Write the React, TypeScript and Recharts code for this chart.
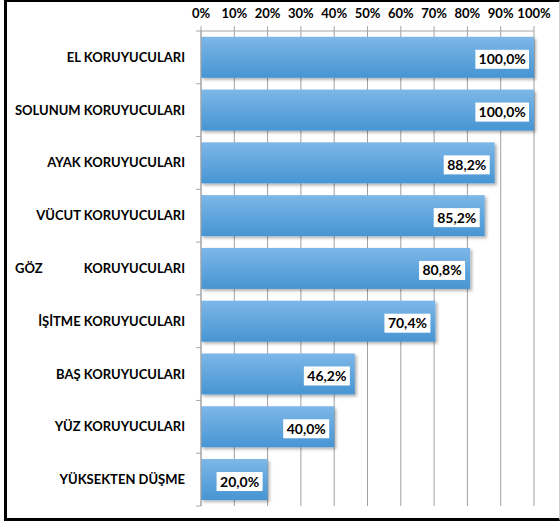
import React from "react";
import { BarChart, Bar, XAxis, YAxis, CartesianGrid, LabelList } from "recharts";

const categories = [
  "EL KORUYUCULARI",
  "SOLUNUM KORUYUCULARI",
  "AYAK KORUYUCULARI",
  "VÜCUT KORUYUCULARI",
  "GÖZ              KORUYUCULARI",
  "İŞİTME KORUYUCULARI",
  "BAŞ KORUYUCULARI",
  "YÜZ KORUYUCULARI",
  "YÜKSEKTEN DÜŞME",
];
const values = [100, 100, 88.2, 85.2, 80.8, 70.4, 46.2, 40.0, 20.0];
const xTicks = [0, 10, 20, 30, 40, 50, 60, 70, 80, 90, 100];

const data = categories.map((name, i) => ({ name, value: values[i] }));

const FONT = "Lato, 'Open Sans', sans-serif";
const BAND = (506 - 31) / categories.length;

const fmt = (v: number) => v.toFixed(1).replace(".", ",") + "%";

const CatTick = (props: any) => {
  const { x, y, payload, index } = props;
  const label: string = payload.value;
  const parts = label.split(/\s{2,}/);
  const axisX = x + 16;
  return (
    <g>
      <line x1={axisX - 5} x2={axisX} y1={y - BAND / 2} y2={y - BAND / 2} stroke="#a6a6a6" />
      {index === categories.length - 1 && (
        <line x1={axisX - 5} x2={axisX} y1={y + BAND / 2} y2={y + BAND / 2} stroke="#a6a6a6" />
      )}
      {parts.length > 1 ? (
        <>
          <text x={x - 170} y={y} dy={4.5} textAnchor="start" fontFamily={FONT} fontWeight={700} fontSize={13} fill="#000">
            {parts[0]}
          </text>
          <text x={x} y={y} dy={4.5} textAnchor="end" fontFamily={FONT} fontWeight={700} fontSize={13} fill="#000">
            {parts[1]}
          </text>
        </>
      ) : (
        <text x={x} y={y} dy={4.5} textAnchor="end" fontFamily={FONT} fontWeight={700} fontSize={13} fill="#000">
          {label}
        </text>
      )}
    </g>
  );
};

const ValueLabel = (props: any) => {
  const { x, y, width, height, value } = props;
  const text = fmt(Number(value));
  const boxW = text.length * 7.6 + 8;
  const boxH = 19;
  const right = x + width - 5;
  const cy = y + height / 2 + 2;
  return (
    <g>
      <rect x={right - boxW} y={cy - boxH / 2} width={boxW} height={boxH} fill="#fff" />
      <text
        x={right - boxW / 2}
        y={cy}
        dy={5}
        textAnchor="middle"
        fontFamily={FONT}
        fontWeight={700}
        fontSize={14}
        fill="#000"
      >
        {text}
      </text>
    </g>
  );
};

const BarShape = (props: any) => {
  const { x, y, width, height } = props;
  return <rect x={x} y={y} width={width} height={height} fill="url(#barGrad)" filter="url(#barShadow)" />;
};

export default function App() {
  return (
    <div style={{ position: "absolute", left: 0, top: 0, width: 560, height: 521, background: "#fff" }}>
      <div
        style={{
          position: "absolute",
          left: 4,
          top: 0,
          width: 556,
          height: 521,
          boxSizing: "border-box",
          borderLeft: "3px solid #000",
          borderTop: "2px solid #000",
          borderBottom: "3px solid #000",
          borderRight: "1px solid #d0d0d0",
        }}
      />
      <div style={{ position: "absolute", left: 0, top: 0 }}>
        <BarChart
          width={560}
          height={521}
          data={data}
          layout="vertical"
          margin={{ top: 0, right: 26, bottom: 15, left: 0 }}
          barCategoryGap="11%"
        >
          <defs>
            <linearGradient id="barGrad" x1="0" y1="0" x2="0" y2="1">
              <stop offset="0%" stopColor="#7db7e8" />
              <stop offset="100%" stopColor="#4795d3" />
            </linearGradient>
            <filter id="barShadow" x="-5%" y="-20%" width="115%" height="150%">
              <feDropShadow dx="2" dy="2" stdDeviation="1.5" floodColor="#000" floodOpacity="0.3" />
            </filter>
          </defs>
          <CartesianGrid horizontal={false} stroke="#a0a0a0" />
          <XAxis
            type="number"
            orientation="top"
            domain={[0, 100]}
            ticks={xTicks}
            tickFormatter={(v: number) => `${v}%`}
            height={31}
            tickSize={5}
            tickMargin={8}
            interval={0}
            axisLine={{ stroke: "#a6a6a6" }}
            tickLine={{ stroke: "#a6a6a6" }}
            tick={{ fontFamily: FONT, fontWeight: 700, fontSize: 13, fill: "#000" }}
          />
          <YAxis
            type="category"
            dataKey="name"
            width={201}
            tickLine={false}
            tickSize={6}
            tickMargin={10}
            interval={0}
            axisLine={{ stroke: "#a6a6a6" }}
            tick={<CatTick />}
          />
          <Bar dataKey="value" isAnimationActive={false} shape={<BarShape />}>
            <LabelList dataKey="value" content={<ValueLabel />} />
          </Bar>
        </BarChart>
      </div>
    </div>
  );
}
